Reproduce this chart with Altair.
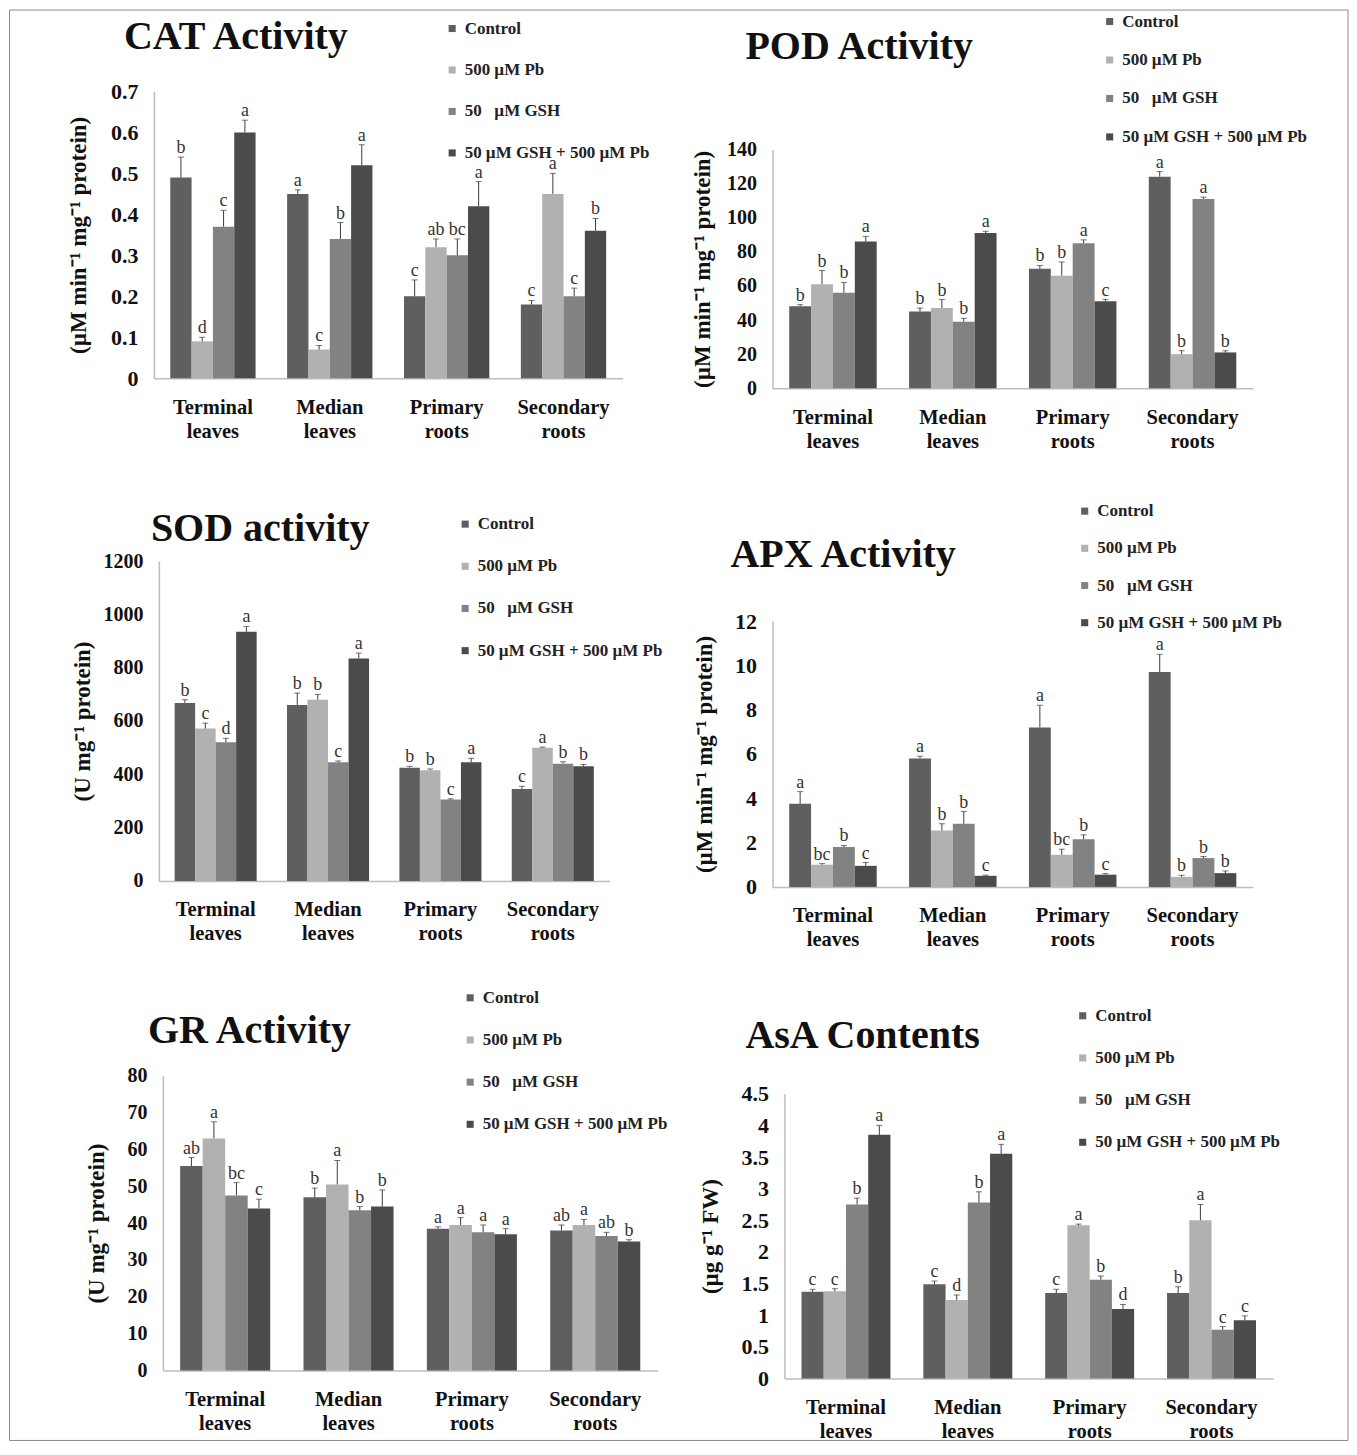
import altair as alt
import pandas as pd

categories = ["Terminal leaves", "Median leaves", "Primary roots", "Secondary roots"]
treatments = ["Control", "500 µM Pb", "50\u00a0\u00a0 µM GSH", "50 µM GSH + 500 µM Pb"]
colors = ["#5f5f5f", "#b1b1b1", "#828282", "#4b4b4b"]

# mean, upper end of error bar and letters per category (treatments in order)
cat_mean = [[0.49, 0.09, 0.37, 0.60], [0.45, 0.07, 0.34, 0.52], [0.20, 0.32, 0.30, 0.42], [0.18, 0.45, 0.20, 0.36]]
cat_upper = [[0.54, 0.10, 0.41, 0.63], [0.46, 0.08, 0.38, 0.57], [0.24, 0.34, 0.34, 0.48], [0.19, 0.50, 0.22, 0.39]]
cat_letters = [["b", "d", "c", "a"], ["a", "c", "b", "a"], ["c", "ab", "bc", "a"], ["c", "a", "c", "b"]]
cat_ticks = [0, 0.1, 0.2, 0.3, 0.4, 0.5, 0.6, 0.7]

pod_mean = [[48, 61, 56, 86], [45, 47, 39, 91], [70, 66, 85, 51], [124, 20, 111, 21]]
pod_upper = [[49, 69, 62, 89], [47, 52, 41, 92], [72, 74, 87, 52], [127, 22, 112, 22]]
pod_letters = [["b", "b", "b", "a"], ["b", "b", "b", "a"], ["b", "b", "a", "c"], ["a", "b", "a", "b"]]
pod_ticks = [0, 20, 40, 60, 80, 100, 120, 140]

sod_mean = [[668, 572, 520, 935], [660, 680, 445, 835], [425, 415, 305, 445], [345, 500, 440, 430]]
sod_upper = [[680, 592, 535, 955], [705, 700, 450, 855], [430, 420, 308, 460], [355, 502, 447, 437]]
sod_letters = [["b", "c", "d", "a"], ["b", "b", "c", "a"], ["b", "b", "c", "a"], ["c", "a", "b", "b"]]
sod_ticks = [0, 200, 400, 600, 800, 1000, 1200]

apx_mean = [[3.75, 1.0, 1.8, 0.95], [5.8, 2.55, 2.85, 0.5], [7.2, 1.45, 2.15, 0.55], [9.7, 0.45, 1.3, 0.62]]
apx_upper = [[4.3, 1.05, 1.87, 1.1], [5.9, 2.85, 3.4, 0.53], [8.2, 1.7, 2.35, 0.6], [10.5, 0.52, 1.37, 0.72]]
apx_letters = [["a", "bc", "b", "c"], ["a", "b", "b", "c"], ["a", "bc", "b", "c"], ["a", "b", "b", "b"]]
apx_ticks = [0, 2, 4, 6, 8, 10, 12]

gr_mean = [[55.5, 63, 47.5, 44], [47, 50.5, 43.5, 44.5], [38.5, 39.5, 37.5, 37], [38, 39.5, 36.5, 35]]
gr_upper = [[57.8, 67.5, 51, 46.5], [49.5, 57, 44.5, 49], [39, 41.5, 39.5, 38.5], [39.5, 41, 37.5, 35.5]]
gr_letters = [["ab", "a", "bc", "c"], ["b", "a", "b", "b"], ["a", "a", "a", "a"], ["ab", "a", "ab", "b"]]
gr_ticks = [0, 10, 20, 30, 40, 50, 60, 70, 80]

asa_mean = [[1.37, 1.38, 2.75, 3.85], [1.49, 1.24, 2.78, 3.55], [1.35, 2.42, 1.56, 1.10], [1.35, 2.50, 0.77, 0.92]]
asa_upper = [[1.41, 1.42, 2.85, 4.0], [1.54, 1.32, 2.95, 3.7], [1.41, 2.44, 1.62, 1.17], [1.45, 2.75, 0.82, 0.99]]
asa_letters = [["c", "c", "b", "a"], ["c", "d", "b", "a"], ["c", "a", "b", "d"], ["b", "a", "c", "c"]]
asa_ticks = [0, 0.5, 1, 1.5, 2, 2.5, 3, 3.5, 4, 4.5]

SERIF = "Liberation Serif"
AXIS_GRAY = "#bdbdbd"
ERR_COLOR = "#3c3c3c"
LEG_FONT = 17
LEG_ROW = 17.8


def make_panel(name, ytitle, mean, upper, letters, ticks, H, top, W, dx,
               title_xy, legend_xy, pitch, label_size, title_pad, frame=None):
    rows = []
    for i, c in enumerate(categories):
        for j, t in enumerate(treatments):
            rows.append({"cat": c, "trt": t, "v": mean[i][j], "u": upper[i][j], "l": letters[i][j]})
    df = pd.DataFrame(rows)

    x = alt.X("cat:N", sort=categories,
              scale=alt.Scale(range=[dx, W], paddingInner=0.27, paddingOuter=0.14),
              axis=alt.Axis(title=None, labelAngle=0, labelExpr="split(datum.label, ' ')",
                            labelFont=SERIF, labelFontWeight="bold", labelFontSize=20.5,
                            labelLineHeight=24, labelColor="#111", labelPadding=19,
                            ticks=False, tickSize=0, domainColor=AXIS_GRAY, domainWidth=1.5))
    xo = alt.XOffset("trt:N", sort=treatments, scale=alt.Scale(paddingInner=0, paddingOuter=0))
    y = alt.Y("v:Q",
              scale=alt.Scale(domain=[0, ticks[-1]], range=[H, top], nice=False, zero=True),
              axis=alt.Axis(values=ticks, tickCount=len(ticks) + 5, labelExpr="datum.value + ''",
                            title=ytitle, grid=False, labelOverlap=False,
                            ticks=False, tickSize=0, domainColor=AXIS_GRAY, domainWidth=1.5,
                            labelFont=SERIF, labelFontWeight="bold", labelFontSize=label_size,
                            labelColor="#111", labelPadding=16,
                            titleFont=SERIF, titleFontWeight="bold", titleFontSize=23,
                            titleColor="#111", titlePadding=title_pad, offset=-dx))
    color = alt.Color("trt:N", sort=treatments,
                      scale=alt.Scale(domain=treatments, range=colors),
                      legend=alt.Legend(title=None, orient="none",
                                        legendX=legend_xy[0], legendY=legend_xy[1],
                                        symbolType="square", symbolSize=50, symbolStrokeWidth=0,
                                        labelFont=SERIF, labelFontWeight="bold", labelFontSize=LEG_FONT,
                                        labelColor="#222", labelOffset=4, labelLimit=400,
                                        rowPadding=pitch - LEG_ROW, padding=0))
    base = alt.Chart(df)
    bars = base.mark_bar().encode(x=x, xOffset=xo, y=y, color=color)
    err = base.mark_rule(color=ERR_COLOR, strokeWidth=1).encode(x=x, xOffset=xo, y="v:Q", y2="u:Q")
    cap = base.mark_tick(color=ERR_COLOR, thickness=1, size=6).encode(x=x, xOffset=xo, y="u:Q")
    txt = base.mark_text(font=SERIF, fontSize=18, color="#333", baseline="alphabetic", dy=-4).encode(
        x=x, xOffset=xo, y="u:Q", text="l:N")
    title = alt.Chart(pd.DataFrame({"t": [name]})).mark_text(
        align="left", baseline="alphabetic", font=SERIF, fontSize=40, fontWeight="bold", color="#111"
    ).encode(text="t:N", x=alt.value(title_xy[0]), y=alt.value(title_xy[1]))
    layers = [bars, err, cap, txt, title]
    if frame is not None:
        fr = alt.Chart(pd.DataFrame({"f": [0]})).mark_rect(
            fillOpacity=0, stroke="#8a8a8a", strokeWidth=1
        ).encode(x=alt.value(frame[0]), x2=alt.value(frame[1]), y=alt.value(frame[2]), y2=alt.value(frame[3]))
        layers.append(fr)
    return alt.layer(*layers).properties(width=W, height=H)


cat = make_panel("CAT Activity", "(µM min⁻¹ mg⁻¹ protein)", cat_mean, cat_upper, cat_letters, cat_ticks,
                 H=287, top=0, W=469, dx=0, title_xy=(-30, -43), legend_xy=(290, -71.5), pitch=41.3,
                 label_size=22, title_pad=20, frame=(-144.5, 1195, -81.5, 1350))
pod = make_panel("POD Activity", "(µM min⁻¹ mg⁻¹ protein)", pod_mean, pod_upper, pod_letters, pod_ticks,
                 H=297, top=58, W=481, dx=0, title_xy=(-27, -32), legend_xy=(329, -78.5), pitch=38.3,
                 label_size=20, title_pad=12)
sod = make_panel("SOD activity", "(U mg⁻¹ protein)", sod_mean, sod_upper, sod_letters, sod_ticks,
                 H=333, top=13, W=456, dx=5, title_xy=(-3, -7), legend_xy=(303, -32.5), pitch=42,
                 label_size=20, title_pad=8)
apx = make_panel("APX Activity", "(µM min⁻¹ mg⁻¹ protein)", apx_mean, apx_upper, apx_letters, apx_ticks,
                 H=339, top=73, W=481, dx=0, title_xy=(-42, 19), legend_xy=(304, -45.5), pitch=37,
                 label_size=22, title_pad=18)
gr = make_panel("GR Activity", "(U mg⁻¹ protein)", gr_mean, gr_upper, gr_letters, gr_ticks,
                H=324, top=29, W=504, dx=9, title_xy=(-6, -4), legend_xy=(308, -57.5), pitch=42,
                label_size=20, title_pad=18)
asa = make_panel("AsA Contents", "(µg g⁻¹ FW)", asa_mean, asa_upper, asa_letters, asa_ticks,
                 H=332, top=47, W=501, dx=12, title_xy=(-27, 1), legend_xy=(302, -39.5), pitch=42,
                 label_size=22, title_pad=18)

chart = alt.concat(
    cat, pod, sod, apx, gr, asa,
    columns=2, spacing={"row": 160, "column": 115}, bounds="flush",
).resolve_scale(
    x="independent", y="independent", color="independent", xOffset="independent"
).resolve_legend(color="independent").properties(
    padding=0, background="white"
).configure_view(stroke="transparent")

chart.save("out.html", embed_options={"renderer": "svg", "actions": False})
